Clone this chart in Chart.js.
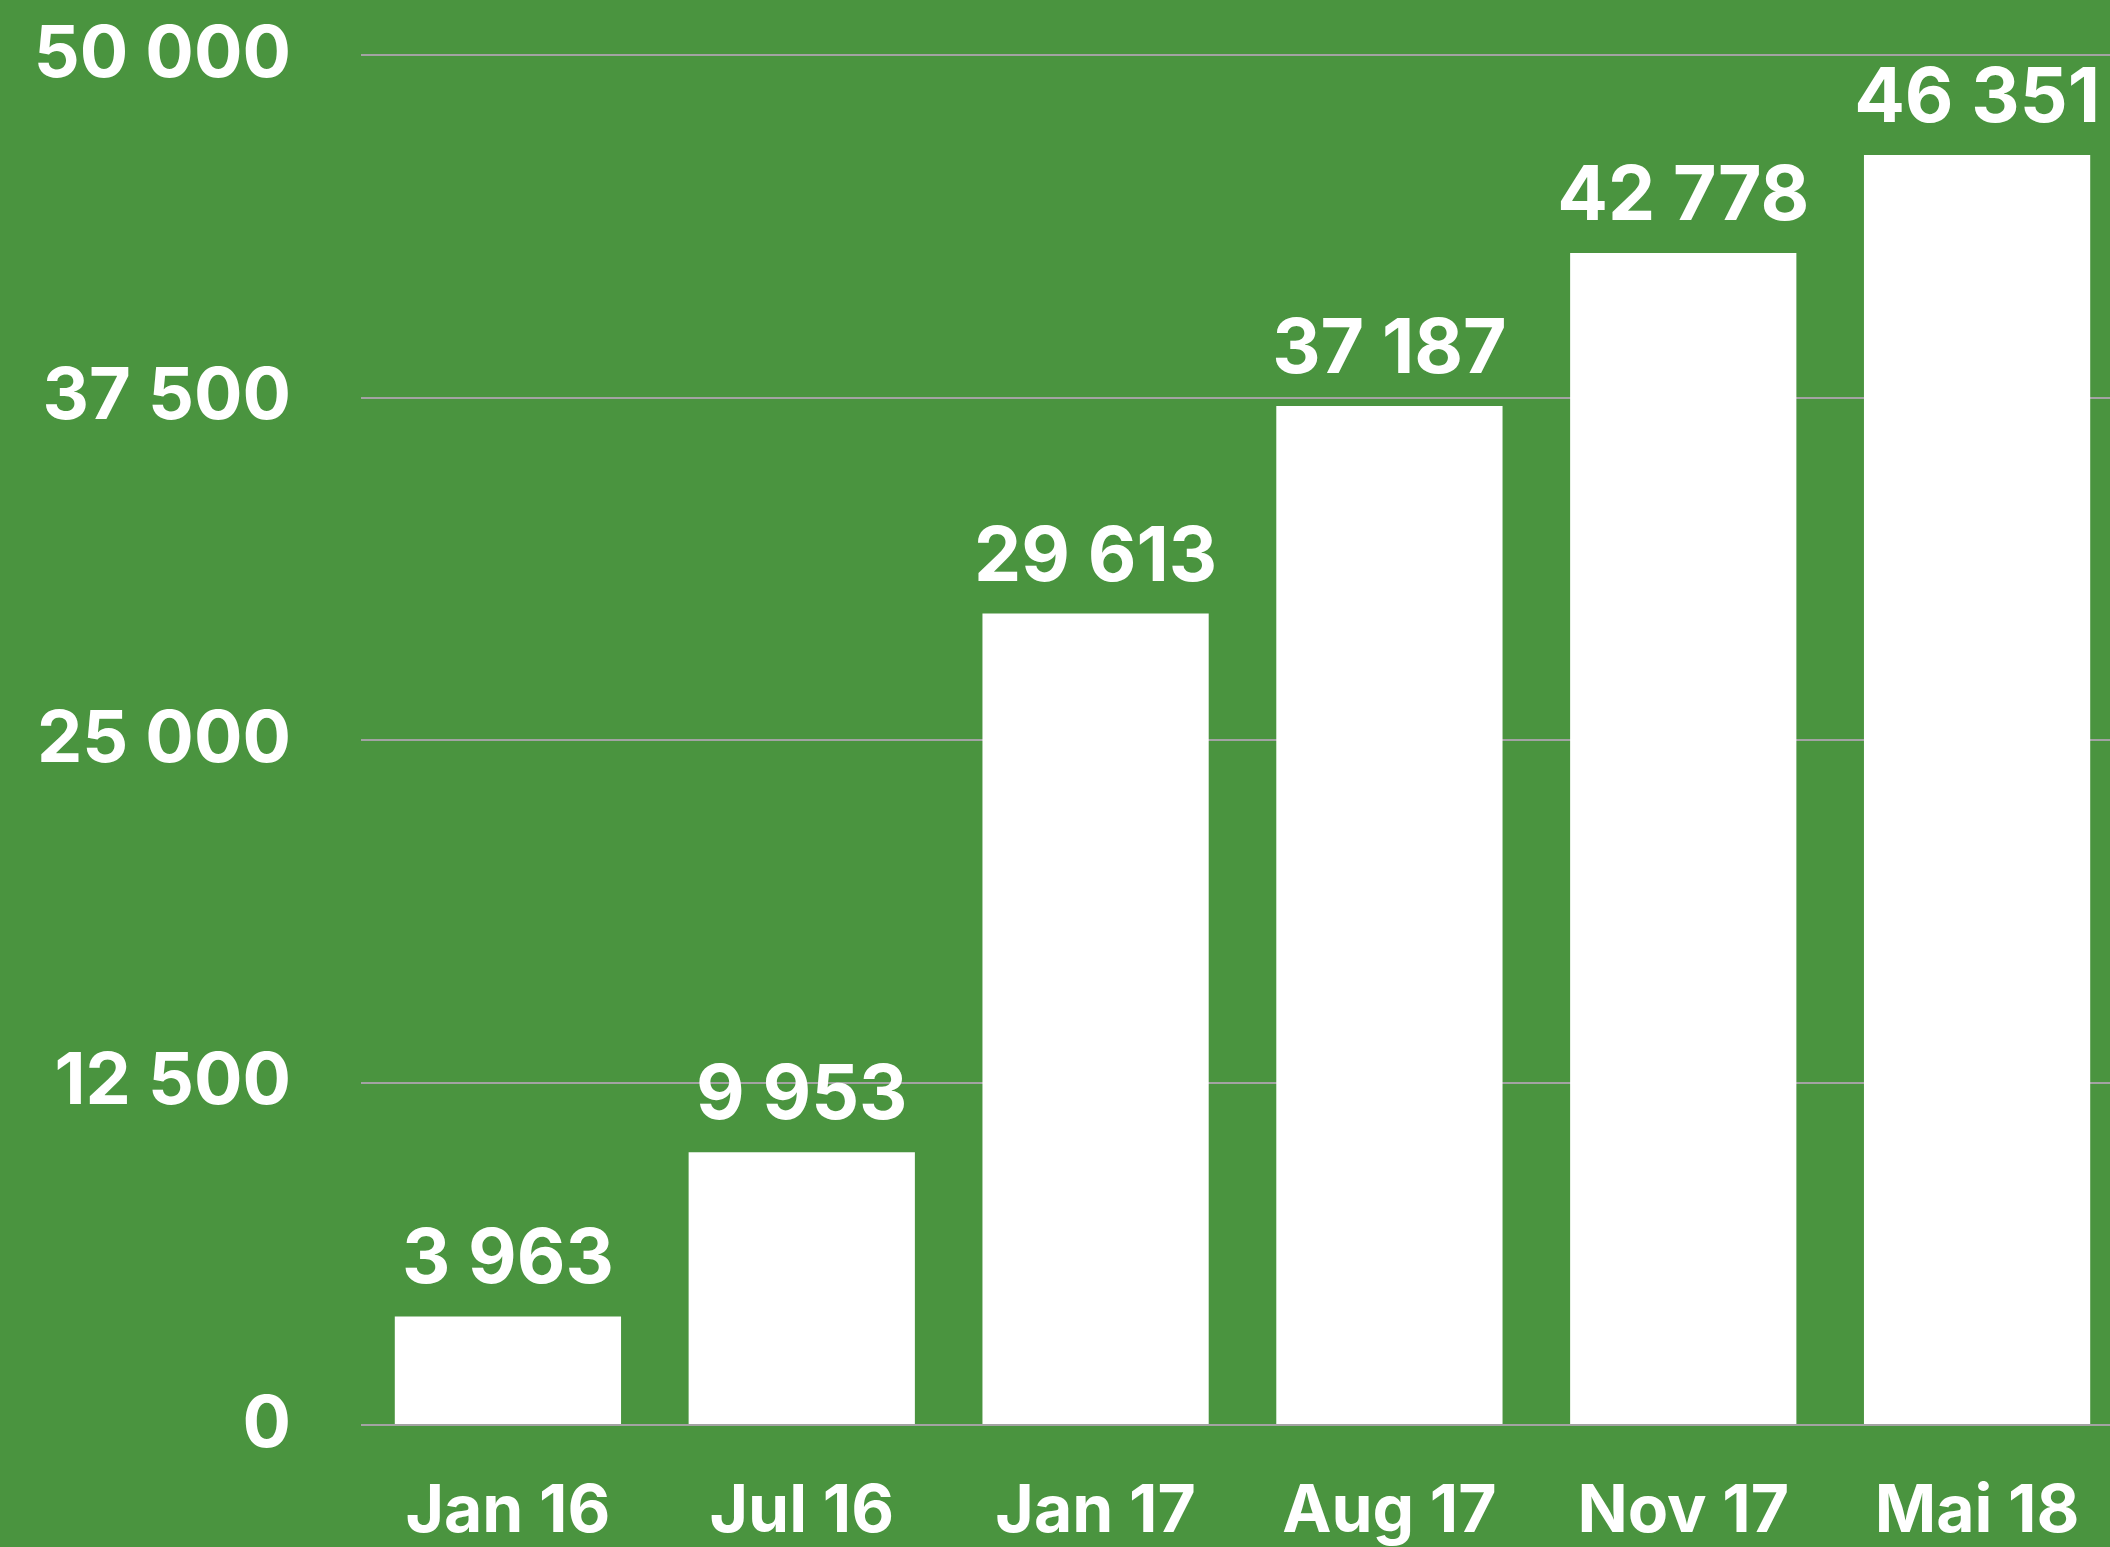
<!DOCTYPE html>
<html>
<head>
<meta charset="utf-8">
<script src="https://cdn.jsdelivr.net/npm/chart.js@4.4.0/dist/chart.umd.min.js"></script>
<style>
  html, body { margin: 0; padding: 0; background: #4A943F; overflow: hidden; }
  #wrap { width: 2124px; height: 1547px; }
</style>
</head>
<body>
<div id="wrap"><canvas id="c" width="2124" height="1547"></canvas></div>
<script>
const categories = ['Jan 16', 'Jul 16', 'Jan 17', 'Aug 17', 'Nov 17', 'Mai 18'];
const values = [3963, 9953, 29613, 37187, 42778, 46351];
const yTicks = [0, 12500, 25000, 37500, 50000];

const fmt = v => String(v).replace(/\B(?=(\d{3})+(?!\d))/g, ' ');
const FONT = 'Inter, "Liberation Sans", Arial, sans-serif';

const labelPlugin = {
  id: 'valueLabels',
  afterDatasetsDraw(chart) {
    const ctx = chart.ctx;
    const meta = chart.getDatasetMeta(0);
    ctx.save();
    ctx.fillStyle = '#ffffff';
    ctx.font = 'bold 75px ' + FONT;
    ctx.textAlign = 'center';
    ctx.textBaseline = 'alphabetic';
    meta.data.forEach((bar, i) => {
      ctx.fillText(fmt(values[i]), bar.x, bar.y - 33);
    });
    ctx.restore();
  }
};

new Chart(document.getElementById('c'), {
  type: 'bar',
  data: {
    labels: categories,
    datasets: [{
      data: values,
      backgroundColor: '#ffffff',
      borderWidth: 0,
      barPercentage: 0.77,
      categoryPercentage: 1.0
    }]
  },
  options: {
    responsive: false,
    animation: false,
    devicePixelRatio: 1,
    layout: { autoPadding: false, padding: { top: 55, right: 0, left: 0, bottom: 0 } },
    plugins: { legend: { display: false }, tooltip: { enabled: false } },
    scales: {
      x: {
        grid: { display: false, drawTicks: false },
        border: { display: false },
        ticks: {
          color: '#ffffff',
          font: { family: FONT, size: 66, weight: 'bold' },
          padding: 48,
          maxRotation: 0
        },
        afterFit(scale) { scale.height = 122; scale.paddingLeft = 0; scale.paddingRight = 0; }
      },
      y: {
        min: 0,
        max: 50000,
        afterBuildTicks(scale) { scale.ticks = yTicks.map(v => ({ value: v })); },
        grid: { color: '#A3A3A3', lineWidth: 2, drawTicks: false },
        border: { display: false },
        ticks: {
          color: '#ffffff',
          font: { family: FONT, size: 72, weight: 'bold', lineHeight: 1.0 },
          padding: 70,
          callback: v => fmt(v)
        },
        afterFit(scale) { scale.width = 361; scale.paddingTop = 0; scale.paddingBottom = 0; }
      }
    }
  },
  plugins: [labelPlugin]
});
</script>
</body>
</html>
